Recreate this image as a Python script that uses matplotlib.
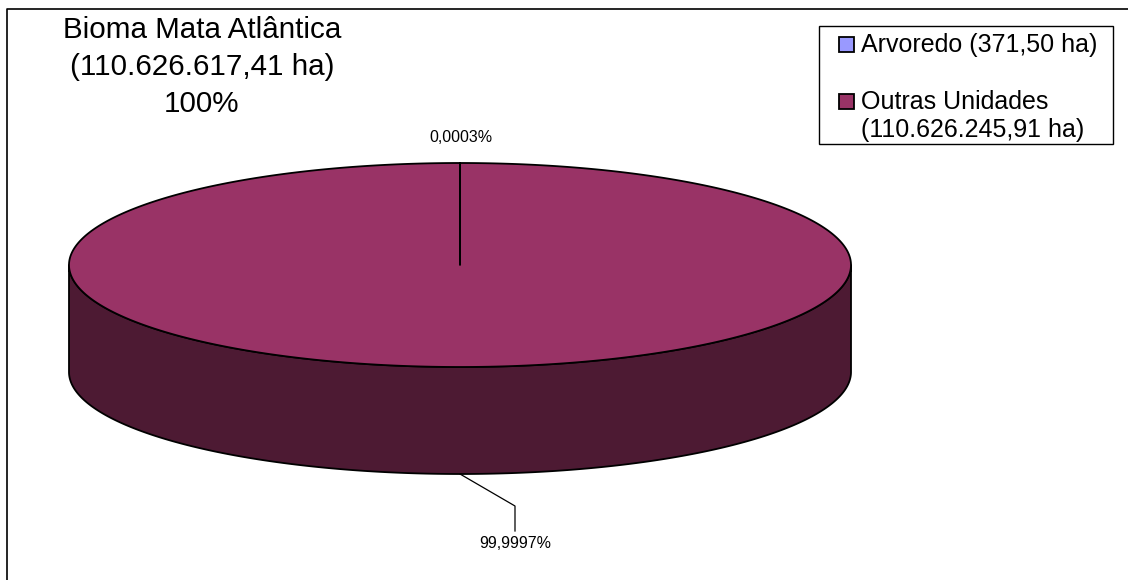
import numpy as np
import matplotlib.pyplot as plt
from matplotlib.patches import Polygon, Rectangle

# data
slice_labels = ["Arvoredo (371,50 ha)", "Outras Unidades\n(110.626.245,91 ha)"]
slice_values = [371.50, 110626245.91]
pct_labels = ["0,0003%", "99,9997%"]
top_colors = ["#9999FF", "#993366"]
side_colors = ["#4D4D80", "#4D1A33"]
title_lines = ["Bioma Mata Atlântica", "(110.626.617,41 ha)", "100%"]

plt.rcParams['font.family'] = ['Liberation Sans', 'DejaVu Sans']

W, H = 1128, 580
fig = plt.figure(figsize=(W / 100, H / 100), dpi=100)
ax = fig.add_axes([0, 0, 1, 1])
ax.set_xlim(0, W)
ax.set_ylim(H, 0)
ax.axis('off')

# pie geometry (pixels)
cx, cy = 460, 265
rx, ry = 391, 102
depth = 107


def ell(t, dy=0.0):
    t = np.radians(t)
    return np.column_stack([cx + rx * np.cos(t), cy - ry * np.sin(t) + dy])


fracs = np.array(slice_values) / np.sum(slice_values)
starts = 90 - np.concatenate([[0], np.cumsum(fracs)[:-1]]) * 360
ends = starts - fracs * 360

# side wall: only the front half of the rim (-180..0 deg) is visible
for s, e, col in zip(starts, ends, side_colors):
    for k in (-360, 0, 360):
        a0, a1 = max(e, -180 + k), min(s, 0 + k)
        if a1 - a0 < 1e-6:
            continue
        t = np.linspace(a0, a1, 300)
        pts = np.vstack([ell(t), ell(t[::-1], depth)])
        ax.add_patch(Polygon(pts, closed=True, facecolor=col, edgecolor='black',
                             lw=1.3, joinstyle='round'))

# top face
for s, e, col in zip(starts, ends, top_colors):
    t = np.linspace(s, e, max(int(abs(s - e)) * 2, 2))
    pts = np.vstack([[cx, cy], ell(t)])
    ax.add_patch(Polygon(pts, closed=True, facecolor=col, edgecolor='black',
                         lw=1.3, joinstyle='round'))

# percentage labels
mid = (starts + ends) / 2
ax.text(cx + 1, 142, pct_labels[0], ha='center', va='baseline', fontsize=11.5)
bx, by = ell([mid[1]], depth)[0]
ax.plot([bx, bx + 55, bx + 55], [by, by + 32, by + 57], color='black', lw=0.9)
ax.text(bx + 55, 548, pct_labels[1], ha='center', va='baseline', fontsize=11.5)

# title
for i, line in enumerate(title_lines):
    ax.text(202, 38 + i * 37, line, ha='center', va='baseline', fontsize=21.3)

# legend
ax.add_patch(Rectangle((819, 26), 294, 118, facecolor='white', edgecolor='black', lw=1))
sq_y = [37, 94]
for y, lab, col in zip(sq_y, slice_labels, top_colors):
    ax.add_patch(Rectangle((839, y), 15, 15, facecolor=col, edgecolor='black', lw=1.3))
    for j, part in enumerate(lab.split("\n")):
        ax.text(861, y + 15 + j * 27.5, part, ha='left', va='baseline', fontsize=18)

# frame
ax.plot([6.5, 6.5, W], [H, 9, 9], color='black', lw=1.2)

fig.savefig('out.png', dpi=100)
